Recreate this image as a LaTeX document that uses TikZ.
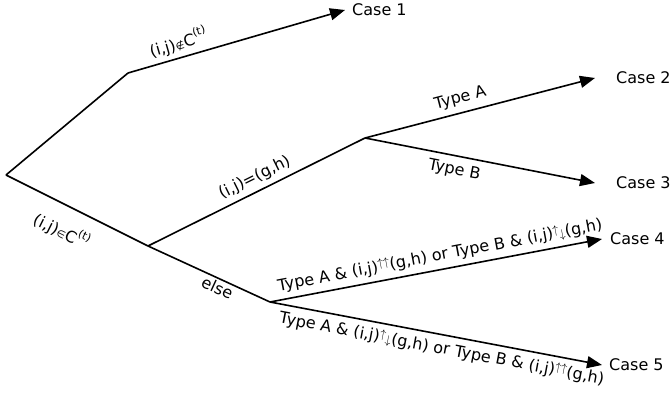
\documentclass[tikz,border=0pt]{standalone}
\usepackage{fontspec}
\setmainfont{DejaVu Sans}
\usetikzlibrary{arrows.meta}
\newcommand{\uarr}{\raisebox{0.3em}{\fontsize{12}{12}\selectfont$\uparrow$}}
\newcommand{\darr}{\raisebox{-0.05em}{\fontsize{12}{12}\selectfont$\downarrow$}}
\newcommand{\sym}[1]{{\fontsize{10}{10}\selectfont #1}}
\newcommand{\supt}{\raisebox{0.55em}{\fontsize{11}{11}\selectfont(t)}}
\begin{document}
\begin{tikzpicture}[x=1pt,y=-1pt,
  every node/.style={font=\fontsize{16}{18}\selectfont},
  edge/.style={line width=1.6pt, black},
  arr/.style={edge, -{Triangle[length=15pt,width=12pt]}},
  casenode/.style={anchor=west, inner ysep=0pt},
  lbl/.style={sloped, inner sep=2pt}]
\useasboundingbox[fill=white] (0,0) rectangle (670,393);
% branch points
\coordinate (root) at (6,175);
\coordinate (knee) at (128,73);
\coordinate (branch) at (148,246);
\coordinate (typept) at (365,138);
\coordinate (elsept) at (270,302);
% outcomes
\node[casenode, inner xsep=7pt] (c1) at (345,10) {Case 1};
\node[casenode, inner xsep=21pt] (c2) at (595,78) {Case 2};
\node[casenode, inner xsep=21pt] (c3) at (595,183) {Case 3};
\node[casenode, inner xsep=8pt] (c4) at (602,239) {Case 4};
\node[casenode, inner xsep=7pt] (c5) at (602,365) {Case 5};
% connectors
\draw[edge] (root) -- (knee);
\draw[arr] (knee) -- node[lbl, pos=0.25, above=2pt] {(i,j)\sym{∉}C\supt} (c1.west);
\draw[edge] (root) -- node[lbl, pos=0.47, below=12pt] {(i,j)\sym{∈}C\supt} (branch);
\draw[edge] (branch) -- node[lbl, pos=0.6, below=0pt] {else} (elsept);
\draw[edge] (branch) -- node[lbl, pos=0.52, above=3pt] {(i,j)=(g,h)} (typept);
\draw[arr] (typept) -- node[lbl, pos=0.43, above=4pt] {Type A} (c2.west);
\draw[arr] (typept) -- node[lbl, pos=0.4, below=4pt] {Type B} (c3.west);
\draw[arr] (elsept) -- node[lbl, pos=0.52, above=3pt] {Type A \& (i,j)\uarr\uarr(g,h) or Type B \& (i,j)\uarr\darr(g,h)} (c4.west);
\draw[arr] (elsept) -- node[lbl, pos=0.525, below=3pt] {Type A \& (i,j)\uarr\darr(g,h) or Type B \& (i,j)\uarr\uarr(g,h)} (c5.west);
\end{tikzpicture}
\end{document}
